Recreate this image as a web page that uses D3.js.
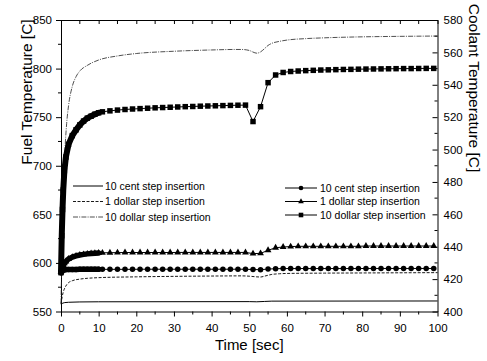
<!DOCTYPE html>
<html>
<head>
<meta charset="utf-8">
<script src="https://cdn.jsdelivr.net/npm/d3@7"></script>
<style>
  body { margin: 0; background: #fff; }
  svg { display: block; font-family: "Liberation Sans", Arial, sans-serif; }
</style>
</head>
<body>
<svg width="487" height="361"></svg>
<script>
// fuel temperature (left axis) - marker series
var markerTime = [0, 0.2, 0.4, 0.6, 0.9, 1.3, 2, 3, 4, 5, 6, 7, 8, 9, 10,
  11, 13, 15, 17, 19, 21, 23, 25, 27, 29, 31, 33, 35, 37, 39, 41, 43, 45, 47, 49,
  51, 53, 55, 57, 59, 61, 63, 65, 67, 69, 71, 73, 75, 77, 79, 81, 83, 85, 87, 89,
  91, 93, 95, 97, 99];
var fuelCent = [590.5, 591.5, 592.2, 592.6, 592.9, 593.1, 593.2, 593.3, 593.3, 593.4, 593.4, 593.4, 593.4, 593.4, 593.4,
  593.4, 593.4, 593.4, 593.4, 593.4, 593.5, 593.5, 593.5, 593.5, 593.5, 593.5, 593.5, 593.5, 593.5, 593.5,
  593.5, 593.5, 593.5, 593.5, 593.5, 593.2, 593.0, 593.7, 594.0, 594.2, 594.2, 594.2, 594.2, 594.2, 594.2,
  594.2, 594.2, 594.2, 594.2, 594.2, 594.3, 594.3, 594.3, 594.3, 594.3, 594.3, 594.3, 594.3, 594.3, 594.3];
var fuelDollar = [590.5, 593, 595.5, 597.5, 599.5, 601.5, 604, 606, 607.3, 608.2, 608.8, 609.3, 609.7, 610, 610.2,
  610.4, 610.5, 610.6, 610.7, 610.7, 610.7, 610.7, 610.7, 610.7, 610.7, 610.8, 610.8, 610.8, 610.8, 610.8,
  610.8, 610.8, 610.8, 610.8, 610.8, 609.6, 609.8, 613, 615.6, 616.4, 616.8, 617.1, 617.1, 617.1, 617.1,
  617.1, 617.1, 617.1, 617.1, 617.1, 617.4, 617.4, 617.4, 617.4, 617.4, 617.4, 617.4, 617.4, 617.4, 617.4];
var fuelTenDollar = [590, 628, 655, 675, 695, 709, 722, 731, 737, 742, 746, 749, 751, 753, 754.5,
  755.5, 756.5, 757.3, 757.9, 758.4, 758.8, 759.2, 759.6, 759.9, 760.2, 760.5, 760.8, 761, 761.3, 761.5,
  761.7, 761.9, 762.1, 762.3, 762.4, 745.5, 760.8, 785.5, 793.4, 796, 797, 797.5, 797.9, 798.2, 798.5,
  798.7, 798.9, 799.1, 799.2, 799.4, 799.5, 799.6, 799.7, 799.8, 799.9, 800, 800, 800.1, 800.2, 800.2];

// coolant temperature (right axis) - line series
var centTime = [0, 0.5, 1, 2, 5, 10, 50, 52, 54, 56, 100];
var coolantCent = [404.5, 405.2, 405.5, 405.7, 405.9, 406, 406.1, 406, 406.2, 406.4, 406.5];
var dollarTime = [0, 0.3, 0.6, 1, 1.5, 2, 3, 5, 7, 10, 20, 30, 40, 48, 50, 52, 53, 54, 56, 58, 60, 70, 80, 100];
var coolantDollar = [404.5, 409, 412, 414.5, 416.5, 417.8, 419, 420, 420.5, 420.9, 421.4, 421.7, 421.9, 422,
  421.8, 421.4, 421.3, 421.8, 422.9, 423.3, 423.5, 423.7, 423.8, 424];
var tenDollarTime = [0, 0.3, 0.6, 1, 1.5, 2, 3, 4, 5, 7, 10, 15, 20, 30, 40, 46, 48, 50, 51, 52, 53, 54, 55,
  56, 58, 60, 65, 70, 80, 90, 100];
var coolantTenDollar = [405, 440, 470, 497, 516, 527, 539, 545, 548.5, 552, 555.3, 557.8, 559.3, 560.7, 561.5,
  561.8, 561.8, 561.2, 560.2, 559.5, 560.3, 562.2, 564.3, 565.6, 566.8, 567.6, 568.5, 569, 569.6, 569.9, 570.1];

var seriesNames = ['10 cent step insertion', '1 dollar step insertion', '10 dollar step insertion'];

var xTicks = [0, 10, 20, 30, 40, 50, 60, 70, 80, 90, 100];
var fuelTicks = [550, 600, 650, 700, 750, 800, 850];
var coolantTicks = [400, 420, 440, 460, 480, 500, 520, 540, 560, 580];

var svg = d3.select('svg');
var plotL = 61, plotR = 437.5, plotT = 20, plotB = 311.5;

var x = d3.scaleLinear().domain([0, 100]).range([plotL, plotR]);
var yFuel = d3.scaleLinear().domain([550, 850]).range([plotB, plotT]);
var yCool = d3.scaleLinear().domain([400, 580]).range([plotB, plotT]);

var fontAxis = 11.5;

// minor ticks
var minor = svg.append('g').attr('stroke', '#000').attr('stroke-width', 1);
[5, 15, 25, 35, 45, 55, 65, 75, 85, 95].forEach(function(v) {
  minor.append('line').attr('x1', x(v)).attr('x2', x(v)).attr('y1', plotB).attr('y2', plotB + 3);
  minor.append('line').attr('x1', x(v)).attr('x2', x(v)).attr('y1', plotT).attr('y2', plotT + 4);
});
[575, 625, 675, 725, 775, 825].forEach(function(v) {
  minor.append('line').attr('x1', plotL - 3).attr('x2', plotL).attr('y1', yFuel(v)).attr('y2', yFuel(v));
});
[410, 430, 450, 470, 490, 510, 530, 550, 570].forEach(function(v) {
  minor.append('line').attr('x1', plotR - 3).attr('x2', plotR).attr('y1', yCool(v)).attr('y2', yCool(v));
});

// axes
var styleAxis = function(g) {
  g.selectAll('.domain').attr('stroke', '#000').attr('stroke-width', 1);
  g.selectAll('.tick line').attr('stroke', '#000');
  g.selectAll('text').attr('font-size', fontAxis).attr('fill', '#000').attr('font-family', 'Liberation Sans, Arial, sans-serif');
};
svg.append('g').attr('transform', 'translate(0,' + plotB + ')')
  .call(d3.axisBottom(x).tickValues(xTicks).tickSize(5).tickPadding(7.5).tickSizeOuter(0))
  .call(styleAxis);
svg.append('g').attr('transform', 'translate(0,' + plotT + ')')
  .call(d3.axisTop(x).tickValues(xTicks).tickSize(-4).tickSizeOuter(0).tickFormat(''))
  .call(styleAxis);
svg.append('g').attr('transform', 'translate(' + plotL + ',0)')
  .call(d3.axisLeft(yFuel).tickValues(fuelTicks).tickSize(5).tickPadding(4).tickSizeOuter(0))
  .call(styleAxis);
svg.append('g').attr('transform', 'translate(' + plotR + ',0)')
  .call(d3.axisRight(yCool).tickValues(coolantTicks).tickSize(-5).tickPadding(6).tickSizeOuter(0))
  .call(styleAxis);

// axis titles
svg.append('text').attr('x', (plotL + plotR) / 2).attr('y', 350).attr('text-anchor', 'middle')
  .attr('font-size', 15).text('Time [sec]');
svg.append('text').attr('transform', 'translate(32,92) rotate(-90)').attr('text-anchor', 'middle')
  .attr('font-size', 15.5).text('Fuel Temperature [C]');
svg.append('text').attr('transform', 'translate(469,88) rotate(90)').attr('text-anchor', 'middle')
  .attr('font-size', 15.5).text('Coolant Temperature [C]');

// coolant lines
var lineStyles = [
  {dash: null, width: 1, color: '#000'},
  {dash: '3,1.5', width: 0.9, color: '#000'},
  {dash: '5,1.2,1,1.2', width: 0.8, color: '#222'}
];
var coolant = [
  {t: centTime, v: coolantCent},
  {t: dollarTime, v: coolantDollar},
  {t: tenDollarTime, v: coolantTenDollar}
];
var lineCool = d3.line().x(function(d) { return x(d[0]); }).y(function(d) { return yCool(d[1]); }).curve(d3.curveMonotoneX);
coolant.forEach(function(s, i) {
  var pts = s.t.map(function(t, j) { return [t, s.v[j]]; });
  svg.append('path').attr('d', lineCool(pts)).attr('fill', 'none')
    .attr('stroke', lineStyles[i].color).attr('stroke-width', lineStyles[i].width)
    .attr('stroke-dasharray', lineStyles[i].dash);
});

// fuel marker series
var markerStyles = [
  {shape: d3.symbolCircle, size: 24, band: 5.5},
  {shape: d3.symbolTriangle, size: 20, band: 5.5},
  {shape: d3.symbolSquare, size: 30, band: 6}
];
var fuel = [fuelCent, fuelDollar, fuelTenDollar];
var lineFuel = d3.line().x(function(d) { return x(d[0]); }).y(function(d) { return yFuel(d[1]); });
fuel.forEach(function(vals, i) {
  var pts = markerTime.map(function(t, j) { return [t, vals[j]]; });
  var st = markerStyles[i];
  svg.append('path').attr('d', lineFuel(pts)).attr('fill', 'none').attr('stroke', '#000').attr('stroke-width', 1);
  // early samples are so dense the markers merge into a thick band
  var dense = pts.filter(function(d) { return d[0] <= 10; });
  svg.append('path').attr('d', lineFuel(dense)).attr('fill', 'none').attr('stroke', '#000')
    .attr('stroke-width', st.band).attr('stroke-linejoin', 'round').attr('stroke-linecap', 'round');
  svg.append('g').selectAll('path').data(pts).enter().append('path')
    .attr('transform', function(d) { return 'translate(' + x(d[0]) + ',' + yFuel(d[1]) + ')'; })
    .attr('d', d3.symbol().type(st.shape).size(st.size))
    .attr('fill', '#000');
});

// legend for lines (left)
var legLeft = svg.append('g').attr('font-size', 10.5);
seriesNames.forEach(function(n, i) {
  var yy = 186 + i * 15.5;
  legLeft.append('line').attr('x1', 73).attr('x2', 103).attr('y1', yy).attr('y2', yy)
    .attr('stroke', lineStyles[i].color).attr('stroke-width', lineStyles[i].width)
    .attr('stroke-dasharray', lineStyles[i].dash);
  legLeft.append('text').attr('x', 105).attr('y', yy).attr('dy', '0.35em').text(n);
});

// legend for markers (right)
var legRight = svg.append('g').attr('font-size', 10.5);
seriesNames.forEach(function(n, i) {
  var yy = 188 + i * 13.5;
  legRight.append('line').attr('x1', 285).attr('x2', 317).attr('y1', yy).attr('y2', yy)
    .attr('stroke', '#000').attr('stroke-width', 1);
  legRight.append('path').attr('transform', 'translate(301,' + yy + ')')
    .attr('d', d3.symbol().type(markerStyles[i].shape).size(markerStyles[i].size * 0.7));
  legRight.append('text').attr('x', 320).attr('y', yy).attr('dy', '0.35em').text(n);
});
</script>
</body>
</html>
